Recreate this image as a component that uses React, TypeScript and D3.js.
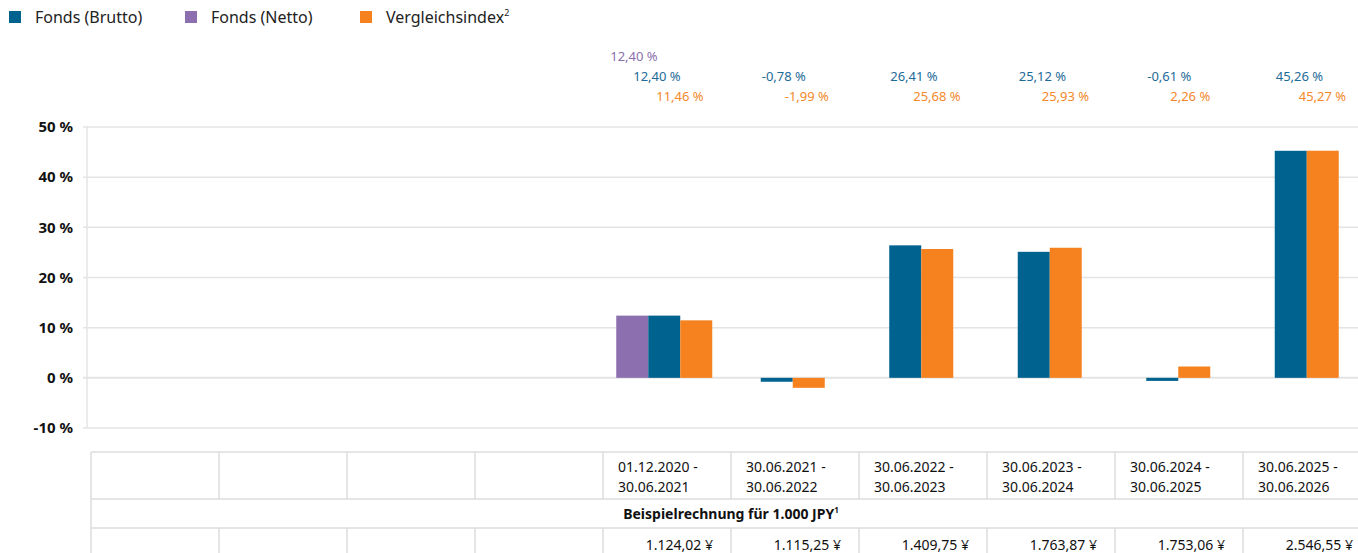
import { scaleBand, scaleLinear } from "d3";

const periods = ["", "", "", "", "01.12.2020 - 30.06.2021", "30.06.2021 - 30.06.2022", "30.06.2022 - 30.06.2023", "30.06.2023 - 30.06.2024", "30.06.2024 - 30.06.2025", "30.06.2025 - 30.06.2026"];
const brutto: (number | null)[] = [null, null, null, null, 12.4, -0.78, 26.41, 25.12, -0.61, 45.26];
const netto: (number | null)[] = [null, null, null, null, 12.4, null, null, null, null, null];
const index: (number | null)[] = [null, null, null, null, 11.46, -1.99, 25.68, 25.93, 2.26, 45.27];
const example: string[] = ["", "", "", "", "1.124,02 ¥", "1.115,25 ¥", "1.409,75 ¥", "1.763,87 ¥", "1.753,06 ¥", "2.546,55 ¥"];
const yTicks = [-10, 0, 10, 20, 30, 40, 50];

const series = [
  { key: "netto", name: "Fonds (Netto)", color: "#8b6fae", values: netto },
  { key: "brutto", name: "Fonds (Brutto)", color: "#00628f", values: brutto },
  { key: "index", name: "Vergleichsindex", color: "#f5821f", values: index },
];
const legend = [series[1], series[0], series[2]];
const labelColor: Record<string, string> = { netto: "#8b6fae", brutto: "#1d6b98", index: "#f5882a" };

const fmt = (v: number) => v.toFixed(2).replace(".", ",") + " %";
const font = "'Noto Sans', sans-serif";

export default function App() {
  const W = 1358, H = 553;
  const x = scaleBand<number>().domain(periods.map((_, i) => i)).range([86, 1371]);
  const tx = scaleBand<number>().domain(periods.map((_, i) => i)).range([91, 1371]);
  const y = scaleLinear().domain([-10, 50]).range([428, 127]);
  const barW = 32;
  const tableTop = 452, row1 = 499, row2 = 528;
  const gridColor = "#e4e4e4";
  const lineColor = "#dcdcdc";

  return (
    <div style={{ position: "absolute", left: 0, top: 0, width: W, height: H, overflow: "hidden", background: "#fff" }}>
      <svg width={W} height={H} style={{ display: "block", fontFamily: font }}>
        {/* legend */}
        {legend.map((s, i) => {
          const lx = [9, 185, 360][i];
          return (
            <g key={s.key}>
              <rect x={lx} y={11} width={12} height={12} fill={s.color} />
              <text x={lx + 26} y={23} fontSize={16} fill="#222">
                {s.name}
                {s.key === "index" && <tspan fontSize={9} dy={-7}>2</tspan>}
              </text>
            </g>
          );
        })}

        {/* grid */}
        {yTicks.map((t) => (
          <g key={t}>
            <line x1={83} x2={W} y1={y(t)} y2={y(t)} stroke={gridColor} strokeWidth={t === 0 ? 2 : 1.5} />
            <text x={73} y={y(t)} dy="0.35em" textAnchor="end" fontSize={15} fontWeight={700} fill="#111">
              {t} %
            </text>
          </g>
        ))}
        <line x1={87} x2={87} y1={y(50)} y2={y(-10)} stroke={gridColor} strokeWidth={1.5} />

        {/* bars */}
        {periods.map((_, i) => {
          const present = series.filter((s) => s.values[i] != null);
          if (!present.length) return null;
          const c = (x(i) ?? 0) + x.bandwidth() / 2;
          const start = c - (present.length * barW) / 2;
          return (
            <g key={i}>
              {present.map((s, j) => {
                const v = s.values[i] as number;
                return (
                  <rect key={s.key} x={start + j * barW} width={barW} y={Math.min(y(v), y(0))}
                    height={Math.abs(y(v) - y(0))} fill={s.color} />
                );
              })}
              {series.map((s, j) => {
                const v = s.values[i];
                if (v == null) return null;
                const lx = c - 31 + (j - 1) * 23;
                return (
                  <text key={s.key} x={lx} y={[61, 81, 101][j]} fontSize={13} fill={labelColor[s.key]}>
                    {fmt(v)}
                  </text>
                );
              })}
            </g>
          );
        })}

        {/* table */}
        <g stroke={lineColor} strokeWidth={1.5}>
          <line x1={91} x2={1371} y1={tableTop} y2={tableTop} />
          <line x1={91} x2={1371} y1={row1} y2={row1} />
          <line x1={91} x2={1371} y1={row2} y2={row2} />
          <line x1={91} x2={91} y1={tableTop} y2={H} />
          {periods.map((_, i) => i > 0 && (
            <g key={i}>
              <line x1={tx(i)} x2={tx(i)} y1={tableTop} y2={row1} />
              <line x1={tx(i)} x2={tx(i)} y1={row2} y2={H} />
            </g>
          ))}
        </g>
        {periods.map((p, i) => {
          if (!p) return null;
          const [a, b] = p.split(" - ");
          const left = (tx(i) ?? 0) + 15;
          const right = (tx(i) ?? 0) + tx.bandwidth() - 18;
          return (
            <g key={i} fontSize={14} fill="#111">
              <text x={left} y={472}>{a} -</text>
              <text x={left} y={492}>{b}</text>
              <text x={right} y={550} textAnchor="end">{example[i]}</text>
            </g>
          );
        })}
        <text x={(91 + 1371) / 2} y={519} textAnchor="middle" fontSize={14} fontWeight={700} fill="#111">
          Beispielrechnung für 1.000 JPY<tspan fontSize={8} dy={-6}>1</tspan>
        </text>
      </svg>
    </div>
  );
}
